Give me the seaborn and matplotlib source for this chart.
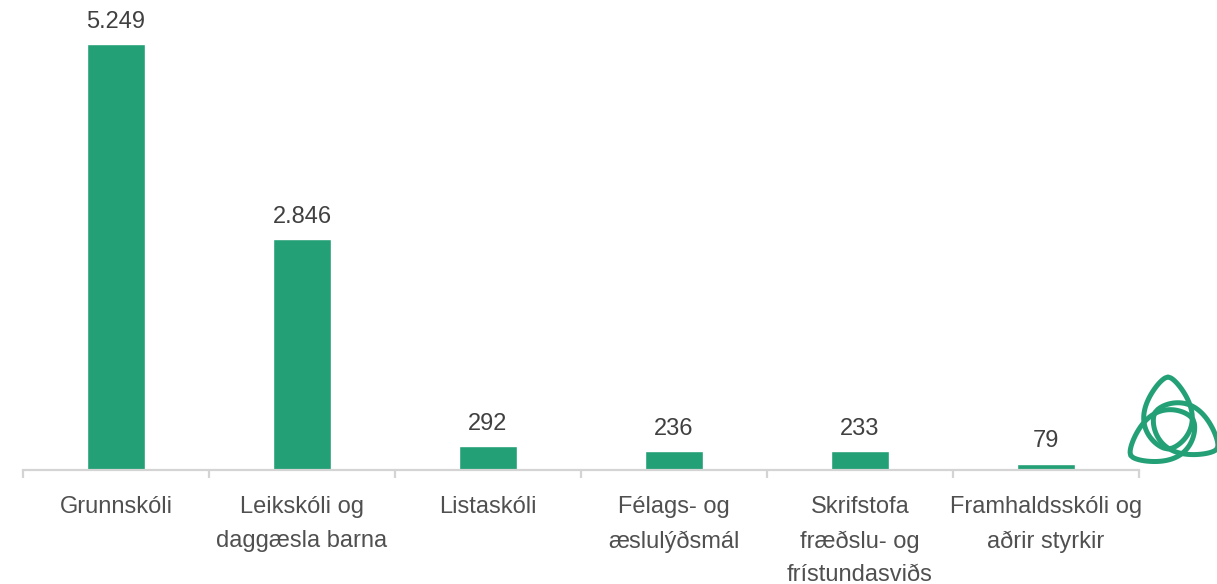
import numpy as np
import pandas as pd
import matplotlib
matplotlib.use("Agg")
import matplotlib.pyplot as plt
from matplotlib.patches import Polygon
import seaborn as sns

# Data
categories = [
    "Grunnskóli",
    "Leikskóli og\ndaggæsla barna",
    "Listaskóli",
    "Félags- og\næslulýðsmál",
    "Skrifstofa\nfræðslu- og\nfrístundasviðs",
    "Framhaldsskóli og\naðrir styrkir",
]
values = [5249, 2846, 292, 236, 233, 79]

GREEN = "#24a077"
AXIS_GRAY = "#d4d4d4"
TEXT_GRAY = "#505050"


def fmt_is(v):
    """Icelandic thousands separator (dot)"""
    return f"{v:,}".replace(",", ".")


def leaf(angle_deg, tip=50, base=-22, width=58, n=80):
    """Pointed leaf outline for the logo, pointing along angle_deg"""
    t = np.linspace(0, 1, n)
    s = base + (tip - base) * t
    h = (width / 2) * np.sin(np.pi * t) ** 0.6 * (1 - 0.35 * t)
    pts = np.concatenate([np.column_stack([s, h]), np.column_stack([s[::-1], -h[::-1]])])
    a = np.deg2rad(angle_deg)
    rot = np.array([[np.cos(a), -np.sin(a)], [np.sin(a), np.cos(a)]])
    # small sideways shift gives the pinwheel look in the middle
    off = np.array([np.cos(a + np.pi / 2), np.sin(a + np.pi / 2)]) * 4
    return pts @ rot.T + off


def main():
    sns.set_theme(style="white")
    plt.rcParams["font.family"] = ["Liberation Sans", "DejaVu Sans"]

    W, H = 1217, 584
    fig = plt.figure(figsize=(W / 100, H / 100), dpi=100)
    ax = fig.add_axes([23 / W, (H - 470) / H, (1139 - 23) / W, 470 / H])

    df = pd.DataFrame({"category": categories, "value": values})
    sns.barplot(data=df, x="category", y="value", color=GREEN, width=0.31,
                saturation=1, ax=ax)

    ax.set_xlim(-0.5, len(categories) - 0.5)
    ax.set_ylim(0, 5790)
    ax.set_xlabel("")
    ax.set_ylabel("")
    ax.set_yticks([])

    for c in ax.containers:
        ax.bar_label(c, labels=[fmt_is(v) for v in values], padding=8,
                     fontsize=17, color="#404040")

    for side in ["top", "right", "left"]:
        ax.spines[side].set_visible(False)
    ax.spines["bottom"].set_color(AXIS_GRAY)
    ax.spines["bottom"].set_linewidth(1.6)

    # category separators as minor ticks
    ax.set_xticks(np.arange(-0.5, len(categories), 1.0), minor=True)
    ax.tick_params(axis="x", which="minor", length=6, width=1.6,
                   color=AXIS_GRAY, direction="out", bottom=True)
    ax.tick_params(axis="x", which="major", length=0, pad=19,
                   labelsize=17, labelcolor=TEXT_GRAY)
    for lbl in ax.get_xticklabels():
        lbl.set_linespacing(1.68)

    # logo in the lower right corner
    lax = fig.add_axes([1117 / W, (H - 482) / H, 110 / W, 110 / H])
    lax.set_xlim(-55, 55)
    lax.set_ylim(-55, 55)
    lax.set_aspect("equal")
    lax.axis("off")
    for ang in [90, 210, 330]:
        lax.add_patch(Polygon(leaf(ang), closed=True, facecolor="none",
                              edgecolor=GREEN, linewidth=3.6, joinstyle="round"))

    fig.savefig("out.png", dpi=100)


if __name__ == "__main__":
    main()
